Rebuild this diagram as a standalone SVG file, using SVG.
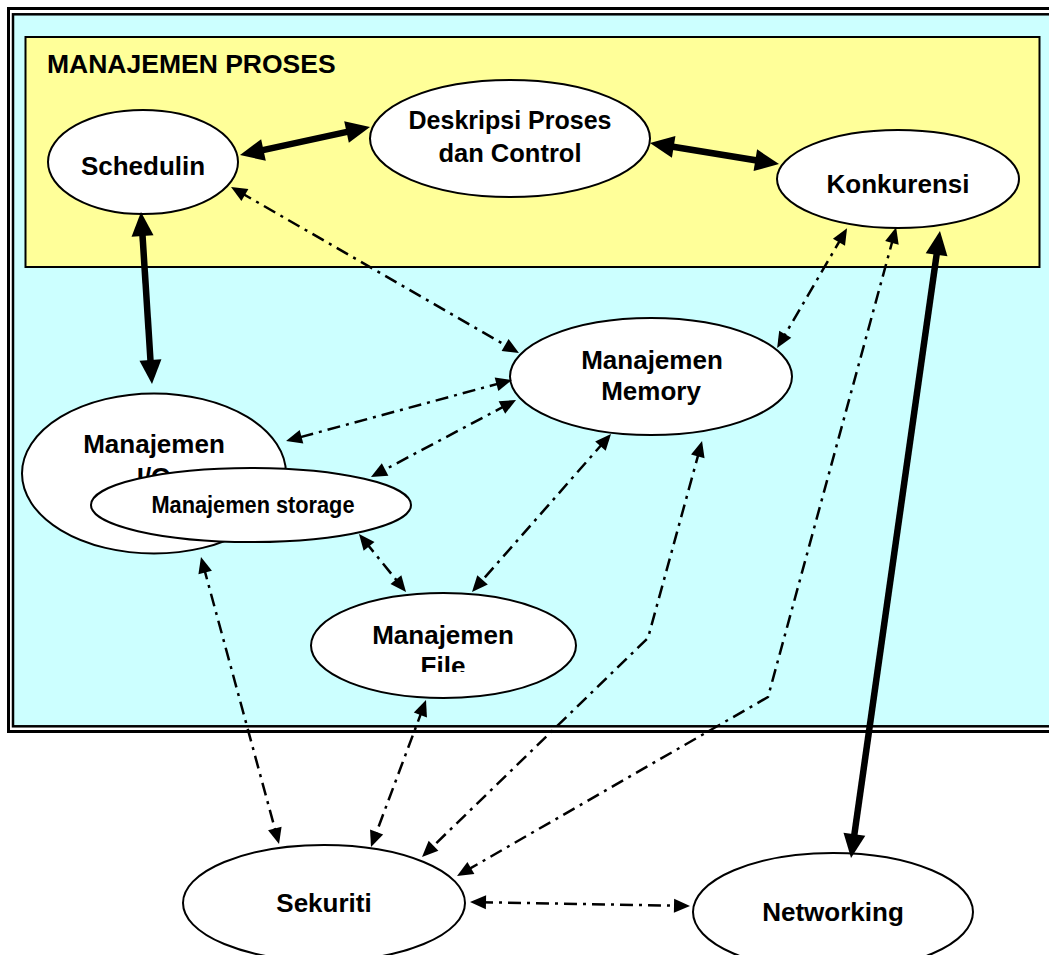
<svg xmlns="http://www.w3.org/2000/svg" width="1049" height="955" viewBox="0 0 1049 955">
<style>
.node{fill:#fff;stroke:#000;stroke-width:2}
.lbl{font-family:"Liberation Sans",Arial,sans-serif;font-weight:bold;font-size:26px;text-anchor:middle;fill:#000}
.thick{fill:none;stroke:#000;stroke-width:6.5;marker-start:url(#bigHead);marker-end:url(#bigHead)}
.dd{fill:none;stroke:#000;stroke-width:2.5;stroke-dasharray:13 6 3 6;marker-start:url(#smallHead);marker-end:url(#smallHead)}
</style>
<defs>
<marker id="bigHead" markerUnits="userSpaceOnUse" markerWidth="24" markerHeight="22" refX="10" refY="11" orient="auto-start-reverse" overflow="visible">
<path d="M0,0 L24,11 L0,22 z" fill="#000"/>
</marker>
<marker id="smallHead" markerUnits="userSpaceOnUse" markerWidth="16" markerHeight="14" refX="6" refY="7" orient="auto-start-reverse" overflow="visible">
<path d="M0,0 L16,7 L0,14 z" fill="#000"/>
</marker>
<clipPath id="fileClip"><rect x="300" y="590" width="280" height="82"/></clipPath>
</defs>
<rect x="0" y="0" width="1049" height="955" fill="#fff"/>
<g id="frame">
<rect x="8.5" y="8.5" width="1060" height="723" fill="#fff" stroke="#000" stroke-width="3"/>
<rect x="13" y="14.3" width="1060" height="712" fill="#CCFFFF" stroke="#000" stroke-width="2.5"/>
</g>
<g id="manajemen-proses">
<rect x="25.5" y="37" width="1014" height="230" fill="#FFFF99" stroke="#000" stroke-width="2"/>
<text x="47" y="73" class="lbl" style="text-anchor:start;font-size:26.5px">MANAJEMEN PROSES</text>
</g>
<g id="schedulin">
<ellipse cx="143" cy="162" rx="95" ry="52" class="node"/>
<text x="143" y="175" class="lbl">Schedulin</text>
</g>
<g id="deskripsi">
<ellipse cx="510" cy="138.5" rx="140" ry="58.5" class="node"/>
<text x="510" y="129" class="lbl" style="font-size:25px">Deskripsi Proses</text>
<text x="510" y="162" class="lbl" style="font-size:25.5px">dan Control</text>
</g>
<g id="konkurensi">
<ellipse cx="898" cy="179" rx="121" ry="49" class="node"/>
<text x="898" y="193" class="lbl">Konkurensi</text>
</g>
<g id="memory">
<ellipse cx="651" cy="376.5" rx="141" ry="58.5" class="node"/>
<text x="652" y="369" class="lbl">Manajemen</text>
<text x="651" y="400" class="lbl">Memory</text>
</g>
<g id="io">
<ellipse cx="154" cy="473.5" rx="132" ry="80" class="node"/>
<text x="154" y="453" class="lbl">Manajemen</text>
<text x="154" y="486" class="lbl">I/O</text>
</g>
<g id="storage">
<ellipse cx="251" cy="505" rx="160" ry="37" class="node"/>
<text x="253" y="513" class="lbl" style="font-size:23px" textLength="203" lengthAdjust="spacingAndGlyphs">Manajemen storage</text>
</g>
<g id="file">
<ellipse cx="443.5" cy="645.5" rx="132.5" ry="52.5" class="node"/>
<g clip-path="url(#fileClip)">
<text x="443" y="644" class="lbl">Manajemen</text>
<text x="443" y="675" class="lbl">File</text>
</g>
</g>
<g id="sekuriti">
<ellipse cx="324" cy="903" rx="141" ry="58" class="node"/>
<text x="324" y="912" class="lbl">Sekuriti</text>
</g>
<g id="networking">
<ellipse cx="833" cy="912" rx="140" ry="59" class="node"/>
<text x="833" y="921" class="lbl">Networking</text>
</g>
<g id="connectors">
<line x1="253.7" y1="152.1" x2="356.3" y2="129.9" class="thick"/>
<line x1="663.8" y1="145.3" x2="765.2" y2="161.8" class="thick"/>
<line x1="141.9" y1="226" x2="151.1" y2="370" class="thick"/>
<line x1="938" y1="244.9" x2="853" y2="844.1" class="thick"/>
<line x1="239.7" y1="192" x2="510.3" y2="348" class="dd"/>
<line x1="842" y1="237" x2="782.2" y2="339.4" class="dd"/>
<line x1="502.3" y1="382.6" x2="295.7" y2="438.4" class="dd"/>
<line x1="507.2" y1="404.7" x2="379.8" y2="472.3" class="dd"/>
<line x1="604.4" y1="441.5" x2="478.6" y2="584.5" class="dd"/>
<line x1="365.3" y1="541.8" x2="399.7" y2="584.2" class="dd"/>
<line x1="203.6" y1="566.7" x2="276.4" y2="834.3" class="dd"/>
<line x1="422.5" y1="709.4" x2="374.5" y2="837.6" class="dd"/>
<polyline points="699.4,450.6 648,638 429.2,850" class="dd"/>
<polyline points="893.5,237 768,697 465.7,871" class="dd"/>
<line x1="480" y1="902.2" x2="680" y2="905.8" class="dd"/>
</g>
</svg>
